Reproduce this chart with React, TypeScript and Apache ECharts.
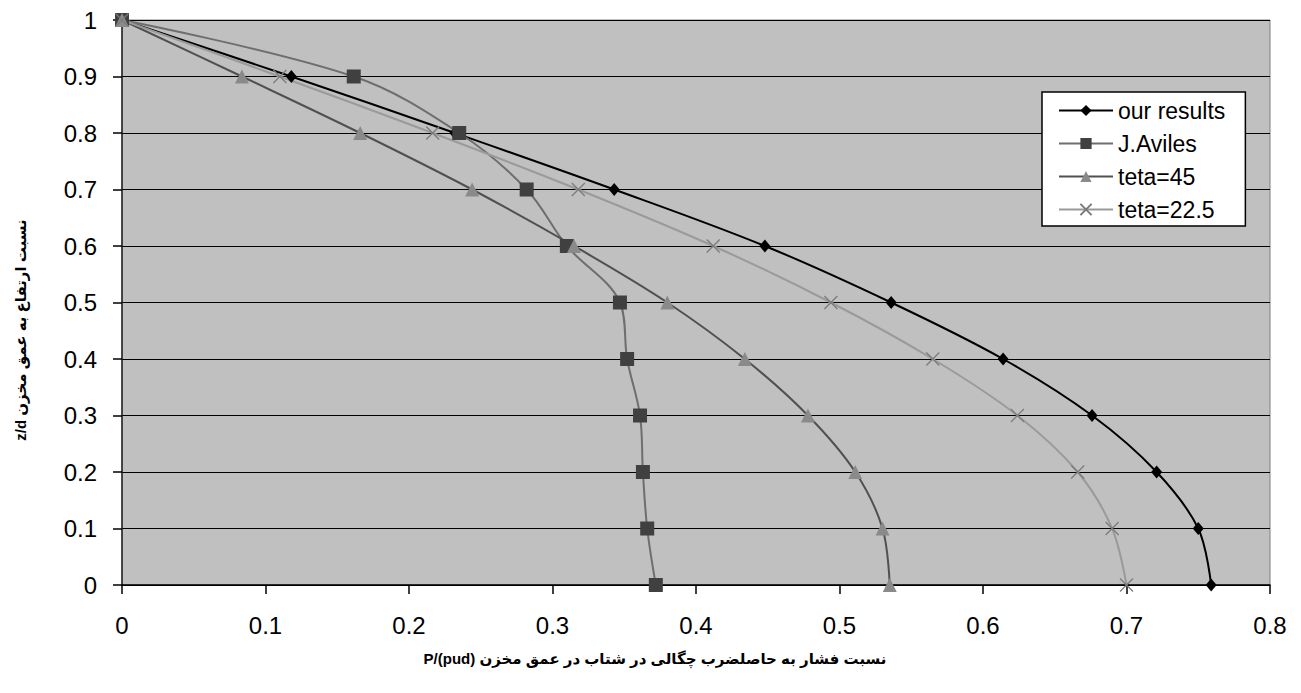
import React, { useEffect, useRef } from "react";
import * as echarts from "echarts";

const zLevels = [1, 0.9, 0.8, 0.7, 0.6, 0.5, 0.4, 0.3, 0.2, 0.1, 0];
const ourResults = [0, 0.118, 0.232, 0.343, 0.448, 0.536, 0.614, 0.676, 0.721, 0.75, 0.759];
const jAviles = [0, 0.1615, 0.235, 0.282, 0.31, 0.347, 0.352, 0.361, 0.363, 0.366, 0.372];
const teta45 = [0, 0.0836, 0.166, 0.244, 0.315, 0.38, 0.434, 0.478, 0.511, 0.53, 0.535];
const teta225 = [0, 0.11, 0.2165, 0.318, 0.412, 0.494, 0.565, 0.624, 0.666, 0.69, 0.7];

const seriesNames = ["our results", "J.Aviles", "teta=45", "teta=22.5"];
const xTitle = "P/(pud) نسبت فشار به حاصلضرب چگالی در شتاب در عمق مخزن";
const yTitle = "z/d نسبت ارتفاع به عمق مخزن";

const FONT = "'Liberation Sans', Arial, 'DejaVu Sans', sans-serif";

function pairs(xs: number[]) {
  return xs.map((x, i) => [x, zLevels[i]]);
}

export default function App() {
  const ref = useRef<HTMLDivElement>(null);
  useEffect(() => {
    if (!ref.current) return;
    const chart = echarts.init(ref.current, undefined, { renderer: "svg" });
    const mk = (
      name: string,
      xs: number[],
      lineColor: string,
      symbol: string,
      symbolSize: number | number[],
      itemStyle: any
    ) => ({
      name,
      type: "line",
      data: pairs(xs),
      smooth: 0.35,
      symbol,
      symbolSize,
      showSymbol: true,
      lineStyle: { color: lineColor, width: 2 },
      itemStyle,
      z: 3,
    });
    chart.setOption({
      animation: false,
      backgroundColor: "#ffffff",
      textStyle: { fontFamily: FONT },
      grid: {
        left: 122,
        top: 20,
        right: 31,
        bottom: 108,
        show: true,
        backgroundColor: "#c0c0c0",
        borderColor: "#808080",
        borderWidth: 1,
      },
      xAxis: {
        type: "value",
        min: 0,
        max: 0.8,
        interval: 0.1,
        axisLine: { show: true, lineStyle: { color: "#000", width: 1.5 } },
        axisTick: { show: true, length: 9, lineStyle: { color: "#000", width: 1.5 } },
        axisLabel: {
          color: "#000",
          fontSize: 24,
          fontFamily: FONT,
          margin: 28,
          formatter: (v: number) => String(Math.round(v * 10) / 10),
        },
        splitLine: { show: false },
      },
      yAxis: {
        type: "value",
        min: 0,
        max: 1,
        interval: 0.1,
        axisLine: { show: true, lineStyle: { color: "#222", width: 1.5 } },
        axisTick: { show: true, length: 9, lineStyle: { color: "#000", width: 1.5 } },
        axisLabel: {
          color: "#000",
          fontSize: 24,
          fontFamily: FONT,
          margin: 25,
          formatter: (v: number) => String(Math.round(v * 10) / 10),
        },
        splitLine: { show: true, lineStyle: { color: "#000", width: 1 } },
      },
      legend: {
        data: seriesNames,
        orient: "vertical",
        left: 1042,
        top: 92,
        backgroundColor: "#ffffff",
        borderColor: "#000",
        borderWidth: 1.5,
        borderRadius: 0,
        padding: [7, 20, 5, 16],
        itemWidth: 54,
        itemHeight: 14,
        itemGap: 10,
        textStyle: { color: "#000", fontSize: 23, fontFamily: FONT },
      },
      graphic: [
        {
          type: "text",
          x: 655,
          y: 658,
          style: {
            text: xTitle,
            fontSize: 15,
            fontWeight: "bold",
            fontFamily: FONT,
            fill: "#000",
            align: "center",
            verticalAlign: "middle",
          },
        },
        {
          type: "text",
          x: 20,
          y: 330,
          rotation: Math.PI / 2,
          style: {
            text: yTitle,
            fontSize: 15,
            fontWeight: "bold",
            fontFamily: FONT,
            fill: "#000",
            align: "center",
            verticalAlign: "middle",
          },
        },
      ],
      series: [
        mk("our results", ourResults, "#000000", "diamond", [11, 13], { color: "#000000" }),
        mk("J.Aviles", jAviles, "#6e6e6e", "rect", 14, { color: "#404040" }),
        mk("teta=45", teta45, "#505050", "triangle", 14, { color: "#8a8a8a" }),
        mk("teta=22.5", teta225, "#9a9a9a", "path://M0,0L10,10M10,0L0,10", 13, {
          color: "none",
          borderColor: "#7a7a7a",
          borderWidth: 1.2,
        }),
      ],
    });
    return () => chart.dispose();
  }, []);
  return (
    <div
      ref={ref}
      style={{ position: "fixed", left: 0, top: 0, width: 1301, height: 693 }}
    />
  );
}
